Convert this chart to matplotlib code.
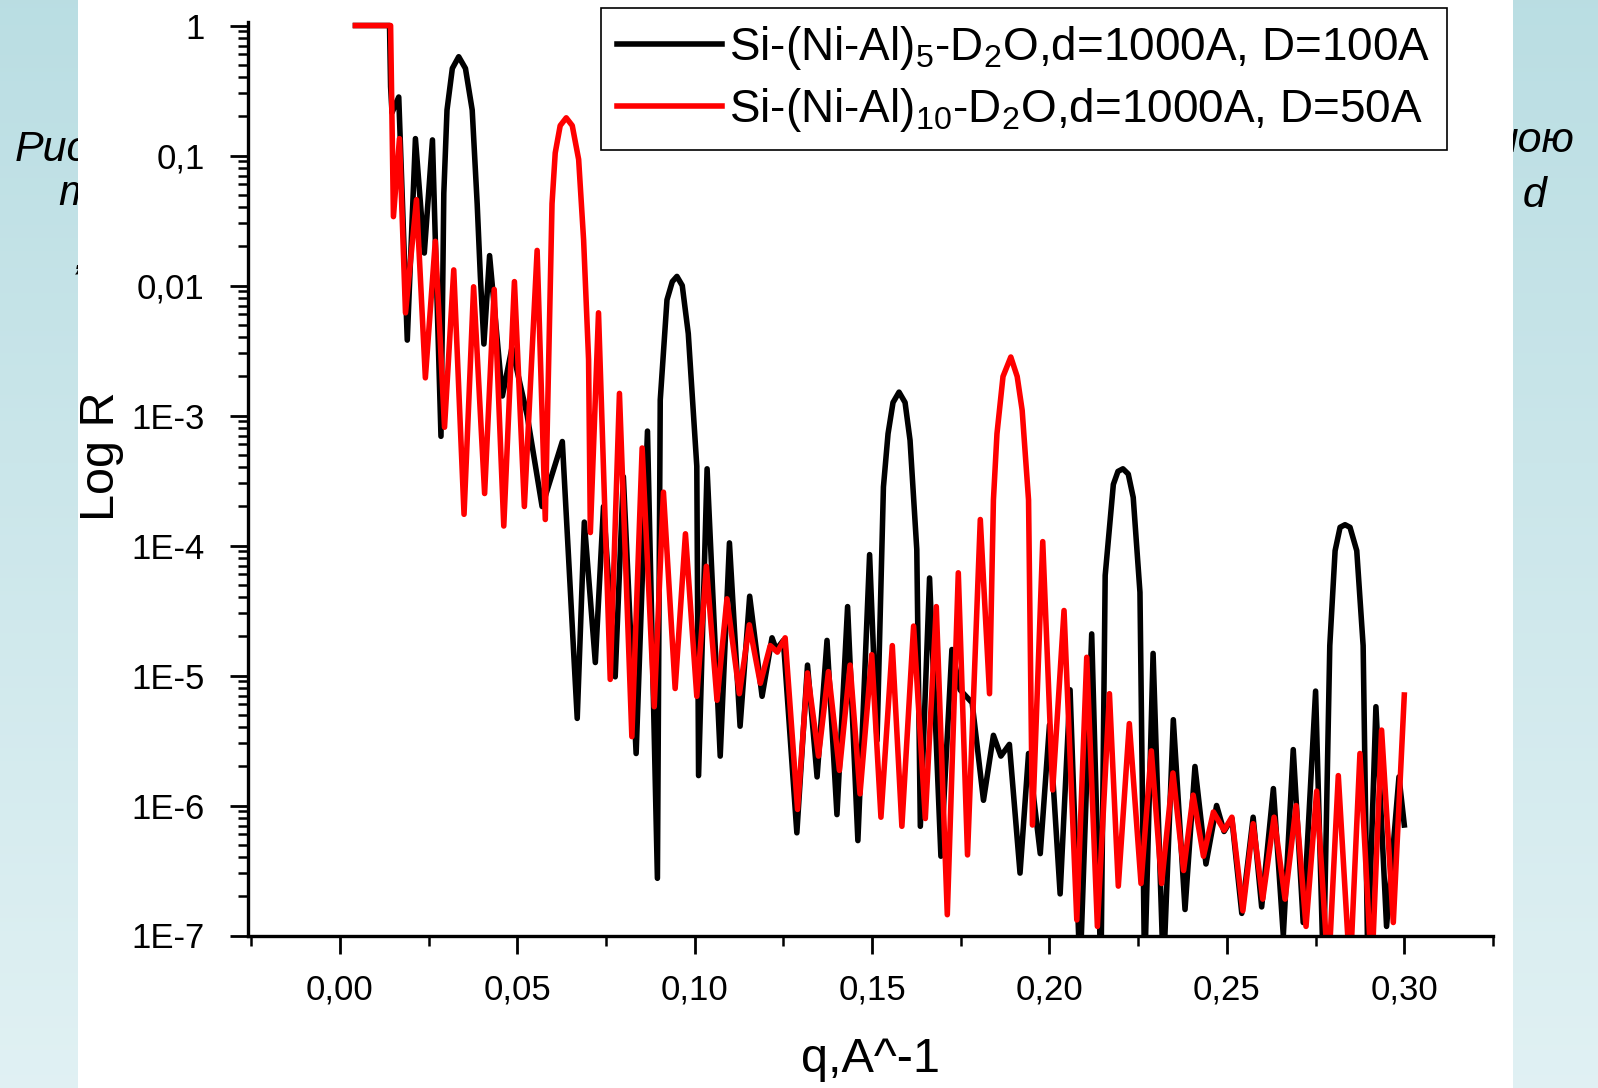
"""
"  Neutron reflectivity curves for Si-(Ni-Al)n-D2O multilayers
"  Values read off the slide picture (q in A^-1, log10 of reflectivity)
"""

import numpy as np
import matplotlib
matplotlib.use('Agg')
import matplotlib.pyplot as plt
from matplotlib.patches import Rectangle
from matplotlib.ticker import LogLocator, NullFormatter

plt.rcParams['font.family'] = ['Liberation Sans', 'DejaVu Sans']
plt.rcParams['mathtext.default'] = 'regular'

# ---- data: Si-(Ni-Al)5-D2O, d=1000A, D=100A (black)
black_q = [0.0044, 0.0140, 0.0143, 0.0147, 0.0166, 0.0190, 0.0213, 0.0238, 0.0261, 0.0285,
           0.0293, 0.0302, 0.0317, 0.0335, 0.0354, 0.0373, 0.0387, 0.0396, 0.0406, 0.0422,
           0.0458, 0.0485, 0.0528, 0.0570, 0.0627, 0.0669, 0.0689, 0.0720, 0.0743, 0.0776,
           0.0799, 0.0835, 0.0867, 0.0895, 0.0903, 0.0922, 0.0937, 0.0950, 0.0965, 0.0982,
           0.1006, 0.1011, 0.1035, 0.1072, 0.1098, 0.1128, 0.1155, 0.1190, 0.1218, 0.1230,
           0.1250, 0.1288, 0.1318, 0.1345, 0.1373, 0.1401, 0.1431, 0.1460, 0.1493, 0.1514,
           0.1532, 0.1545, 0.1559, 0.1576, 0.1593, 0.1607, 0.1626, 0.1636, 0.1662, 0.1694,
           0.1725, 0.1748, 0.1782, 0.1814, 0.1842, 0.1863, 0.1887, 0.1917, 0.1941, 0.1974,
           0.2000, 0.2030, 0.2058, 0.2086, 0.2119, 0.2145, 0.2157, 0.2180, 0.2193, 0.2207,
           0.2222, 0.2236, 0.2255, 0.2268, 0.2292, 0.2321, 0.2349, 0.2382, 0.2410, 0.2441,
           0.2471, 0.2492, 0.2514, 0.2542, 0.2574, 0.2598, 0.2631, 0.2659, 0.2687, 0.2715,
           0.2750, 0.2772, 0.2790, 0.2805, 0.2819, 0.2833, 0.2847, 0.2866, 0.2884, 0.2897,
           0.2920, 0.2950, 0.2985, 0.3000]
black_logR = [0, 0, -0.47, -0.67, -0.55, -2.42, -0.87, -1.75, -0.88, -3.16,
              -1.29, -0.65, -0.33, -0.24, -0.33, -0.65, -1.37, -1.93, -2.45, -1.77,
              -2.85, -2.48, -3.00, -3.70, -3.20, -5.33, -3.82, -4.90, -3.70, -5.01,
              -3.47, -5.60, -3.12, -6.56, -2.88, -2.11, -1.97, -1.93, -2.00, -2.37,
              -3.39, -5.77, -3.41, -5.62, -3.98, -5.39, -4.39, -5.16, -4.71, -4.80,
              -4.73, -6.21, -4.92, -5.78, -4.73, -6.07, -4.47, -6.27, -4.07, -5.50,
              -3.55, -3.14, -2.90, -2.82, -2.90, -3.19, -4.03, -6.16, -4.25, -6.39,
              -4.80, -5.11, -5.21, -5.96, -5.46, -5.62, -5.53, -6.52, -5.60, -6.37,
              -5.38, -6.68, -5.11, -7.30, -4.68, -7.30, -4.23, -3.53, -3.43, -3.41,
              -3.45, -3.63, -4.36, -7.30, -4.83, -7.30, -5.34, -6.80, -5.70, -6.45,
              -6.00, -6.20, -6.10, -6.83, -6.09, -6.78, -5.87, -7.00, -5.57, -6.90,
              -5.12, -7.30, -4.77, -4.04, -3.86, -3.84, -3.86, -4.04, -4.77, -7.20,
              -5.24, -6.93, -5.78, -6.15]

# ---- data: Si-(Ni-Al)10-D2O, d=1000A, D=50A (red)
red_q = [0.0044, 0.0143, 0.0151, 0.0168, 0.0185, 0.0216, 0.0241, 0.0269, 0.0295, 0.0321,
         0.0350, 0.0377, 0.0408, 0.0435, 0.0462, 0.0492, 0.0520, 0.0556, 0.0579, 0.0598,
         0.0607, 0.0621, 0.0638, 0.0655, 0.0673, 0.0687, 0.0701, 0.0706, 0.0729, 0.0762,
         0.0788, 0.0823, 0.0852, 0.0886, 0.0912, 0.0945, 0.0974, 0.1006, 0.1033, 0.1063,
         0.1091, 0.1126, 0.1154, 0.1185, 0.1213, 0.1233, 0.1255, 0.1290, 0.1318, 0.1349,
         0.1377, 0.1408, 0.1438, 0.1466, 0.1499, 0.1525, 0.1557, 0.1584, 0.1617, 0.1650,
         0.1681, 0.1712, 0.1743, 0.1769, 0.1805, 0.1831, 0.1842, 0.1852, 0.1869, 0.1891,
         0.1909, 0.1923, 0.1941, 0.1952, 0.1981, 0.2009, 0.2041, 0.2077, 0.2105, 0.2135,
         0.2169, 0.2194, 0.2225, 0.2258, 0.2287, 0.2316, 0.2348, 0.2378, 0.2405, 0.2434,
         0.2462, 0.2492, 0.2514, 0.2545, 0.2574, 0.2601, 0.2633, 0.2664, 0.2695, 0.2723,
         0.2753, 0.2786, 0.2814, 0.2847, 0.2875, 0.2908, 0.2936, 0.2969, 0.3000]
red_logR = [0, 0, -1.47, -0.87, -2.21, -1.34, -2.71, -1.66, -3.09, -1.88,
            -3.76, -2.01, -3.60, -2.03, -3.85, -1.97, -3.70, -1.73, -3.80, -1.37,
            -0.98, -0.77, -0.71, -0.77, -1.03, -1.65, -2.57, -3.90, -2.21, -5.03,
            -2.83, -5.47, -3.25, -5.24, -3.59, -5.10, -3.91, -5.16, -4.16, -5.19,
            -4.41, -5.14, -4.61, -5.06, -4.77, -4.82, -4.71, -6.03, -4.98, -5.62,
            -4.97, -5.73, -4.92, -5.91, -4.84, -6.09, -4.77, -6.16, -4.62, -6.10,
            -4.47, -6.84, -4.21, -6.38, -3.80, -5.14, -3.65, -3.14, -2.70, -2.55,
            -2.70, -2.96, -3.65, -6.15, -3.97, -5.88, -4.50, -6.88, -4.86, -6.93,
            -5.14, -6.62, -5.37, -6.60, -5.58, -6.60, -5.75, -6.50, -5.92, -6.39,
            -6.05, -6.19, -6.09, -6.81, -6.14, -6.72, -6.09, -6.72, -6.00, -6.93,
            -5.89, -7.30, -5.77, -7.30, -5.60, -7.30, -5.42, -6.90, -5.15]

labels = [r'Si-(Ni-Al)$_5$-D$_2$O,d=1000A, D=100A',
          r'Si-(Ni-Al)$_{10}$-D$_2$O,d=1000A, D=50A']

x_ticks = [0.00, 0.05, 0.10, 0.15, 0.20, 0.25, 0.30]
x_ticklabels = ['0,00', '0,05', '0,10', '0,15', '0,20', '0,25', '0,30']
x_minor = [-0.025, 0.025, 0.075, 0.125, 0.175, 0.225, 0.275, 0.325]
y_ticks = [1, 1e-1, 1e-2, 1e-3, 1e-4, 1e-5, 1e-6, 1e-7]
y_ticklabels = ['1', '0,1', '0,01', '1E-3', '1E-4', '1E-5', '1E-6', '1E-7']

W, H = 1598, 1088
fig = plt.figure(figsize=(W / 100, H / 100), dpi=100)

# slide behind the chart: gradient, bits of caption, white sheet on top
bg = fig.add_axes([0, 0, 1, 1], zorder=-10)
shade = np.linspace(0, 1, 256)[:, None, None]
top_col = np.array([0.73, 0.87, 0.89])
bot_col = np.array([0.88, 0.945, 0.955])
bg.imshow(top_col + (bot_col - top_col) * shade, extent=[0, 1, 0, 1], aspect='auto')
bg.set_xlim(0, 1)
bg.set_ylim(0, 1)
bg.axis('off')

cap = dict(fontsize=31, style='italic', color='black', va='center', zorder=3)
bg.text(15 / W, 1 - 150 / H, 'Рис', ha='left', **cap)
bg.text(1574 / W, 1 - 141 / H, 'ною', ha='right', **cap)
bg.text(58 / W, 1 - 194 / H, 'те', ha='left', **cap)
bg.text(1547 / W, 1 - 196 / H, 'о d', ha='right', **cap)
bg.text(80 / W, 1 - 282 / H, '’', ha='right', **cap)
bg.add_patch(Rectangle((77.5 / W, 0), (1513 - 77.5) / W, 1, transform=bg.transAxes,
                       facecolor='white', edgecolor='none', zorder=5))

# chart
ax = fig.add_axes([247.6 / W, 1 - 935.5 / H, (1493 - 247.6) / W, (935.5 - 21.7) / H])
ax.set_facecolor('white')
ax.plot(black_q, 10 ** np.array(black_logR), color='black', lw=4.0,
        solid_joinstyle='round', label=labels[0])
ax.plot(red_q, 10 ** np.array(red_logR), color='#ff0000', lw=4.0,
        solid_joinstyle='round', label=labels[1])

ax.set_yscale('log')
ax.set_xlim(-0.026, 0.325)
ax.set_ylim(1e-7, 1.07)

ax.set_xticks(x_ticks, x_ticklabels)
ax.set_xticks(x_minor, minor=True)
ax.set_yticks(y_ticks, y_ticklabels)
ax.yaxis.set_minor_locator(LogLocator(base=10, subs=np.arange(2, 10)))
ax.yaxis.set_minor_formatter(NullFormatter())

for side in ['top', 'right']:
    ax.spines[side].set_visible(False)
for side in ['left', 'bottom']:
    ax.spines[side].set_linewidth(2.4)

ax.tick_params(which='major', direction='out', length=13, width=2.0, labelsize=25)
ax.tick_params(axis='y', which='major', pad=18)
ax.tick_params(axis='x', which='major', pad=14)
ax.tick_params(which='minor', direction='out', length=7, width=1.8)

ax.set_xlabel('q,A^-1', fontsize=35)
ax.xaxis.set_label_coords(0.5, -0.136)
ax.xaxis.label.set_va('center')
ax.set_ylabel('Log R', fontsize=35)
ax.yaxis.set_label_coords(-0.117, 0.525)
ax.yaxis.label.set_va('center')

leg = ax.legend(loc='upper left', bbox_to_anchor=(601 / W, 1 - 8 / H),
                bbox_transform=fig.transFigure, fontsize=33, frameon=True,
                fancybox=False, edgecolor='black', framealpha=1, borderaxespad=0,
                handlelength=2.3, handletextpad=0.15, borderpad=0.35, labelspacing=0.3)
leg.get_frame().set_linewidth(1.2)

fig.savefig('out.png', dpi=100)
